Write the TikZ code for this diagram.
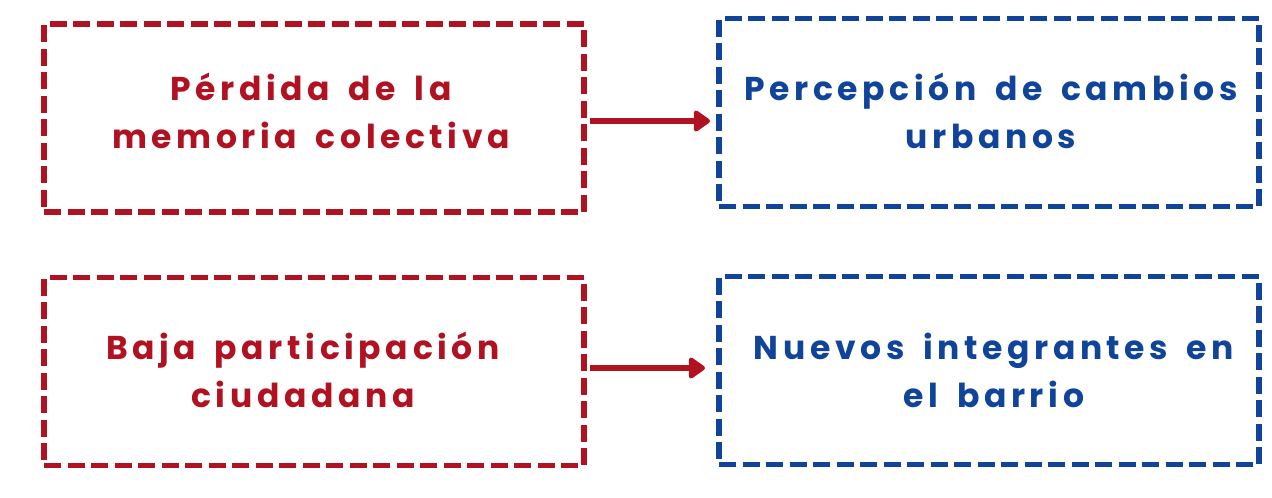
\documentclass[tikz,border=0pt]{standalone}
\usepackage{fontspec}
\setmainfont{Poppins}[LetterSpace=14, WordSpace=1.6]
\usetikzlibrary{arrows.meta}
\definecolor{cred}{HTML}{B01222}
\definecolor{cblue}{HTML}{10449A}
\tikzset{
  box/.style={draw, line width=5.8pt, dash pattern=on 17pt off 6.5pt, rectangle,
    minimum width=540pt, minimum height=188pt, inner sep=0pt},
  redbox/.style={box, draw=cred},
  bluebox/.style={box, draw=cblue},
  txt/.style={anchor=base, inner sep=0pt, align=center,
    font=\fontsize{33}{48}\selectfont\bfseries},
  conn/.style={draw=cred, line width=6pt, -{Triangle[round, length=18pt, width=24pt]}}
}
\begin{document}
\begin{tikzpicture}[x=1pt,y=-1pt]
\useasboundingbox (0,0) rectangle (1272,498);
\node[redbox] (a) at (314,118) {};
\node[bluebox] (b) at (989,112.5) {};
\node[redbox] (c) at (314,371.5) {};
\node[bluebox] (d) at (989,370.5) {};
\node[txt, text=cred] (ta) at (311,148) {Pérdida de la\\memoria colectiva};
\node[txt, text=cblue] (tb) at (991,148) {Percepción de cambios\\urbanos};
\node[txt, text=cred] (tc) at (303,407) {Baja participación\\ciudadana};
\node[txt, text=cblue] (td) at (994,407) {Nuevos integrantes en\\el barrio};
\draw[conn] ([xshift=3pt]a.east |- 0,121) -- (710,121) coordinate (t1);
\draw[conn] ([xshift=3pt]c.east |- 0,368) -- (705,368) coordinate (t2);
\end{tikzpicture}
\end{document}
